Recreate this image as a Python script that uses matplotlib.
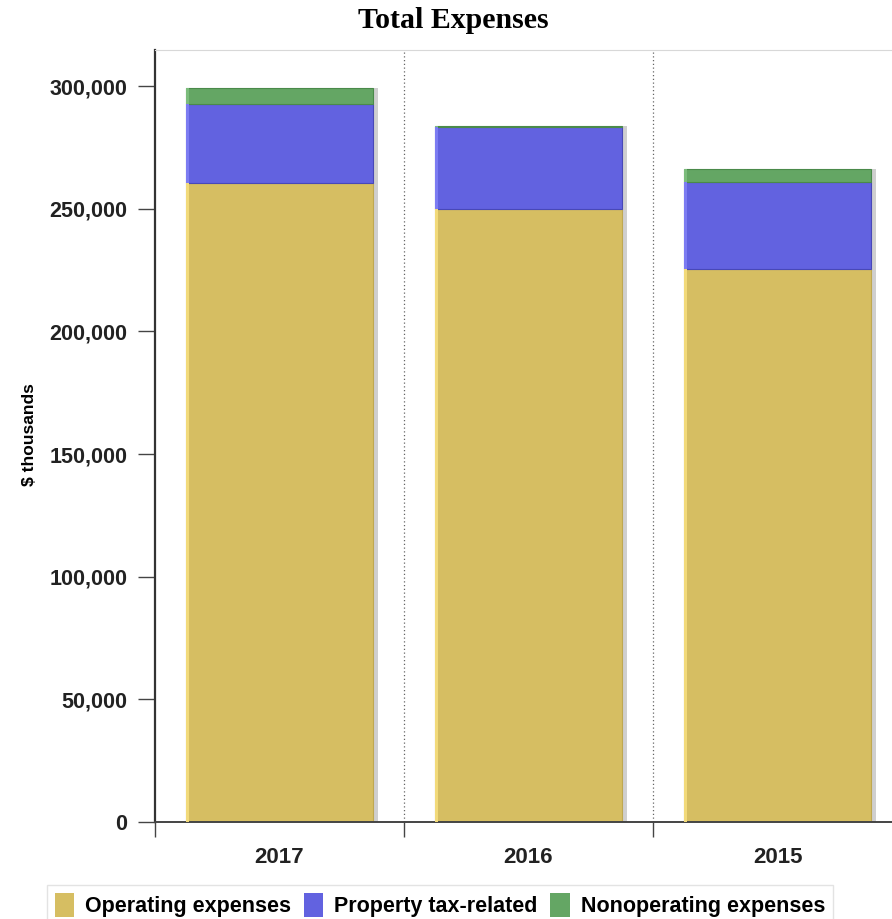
import numpy as np
import matplotlib.pyplot as plt
from matplotlib.patches import Patch

# values ($ thousands)
years = ['2017', '2016', '2015']
operating = [260500, 249900, 225400]
property_tax = [32200, 33400, 35500]
nonoperating = [6500, 400, 5300]

c_op = '#D6BE62'
c_prop = '#6262E0'
c_nonop = '#64A664'

fig = plt.figure(figsize=(8.92, 9.19), dpi=100)
ax = fig.add_axes([155/892, 1-822/919, (902-155)/892, (822-50)/919])

x = np.arange(len(years))
w = 0.755
op = np.array(operating)
pt = np.array(property_tax)
no = np.array(nonoperating)
total = op + pt + no

# drop shadow behind each bar
ax.bar(x + 0.02, total, width=w, color='#CFCFCF', zorder=1)

ax.bar(x, op, width=w, color=c_op, edgecolor='#BFA850', linewidth=0.8, zorder=2)
ax.bar(x, pt, bottom=op, width=w, color=c_prop, edgecolor='#4848B8', linewidth=0.8, zorder=2)
ax.bar(x, no, bottom=op + pt, width=w, color=c_nonop, edgecolor='#4A8A4A', linewidth=0.8, zorder=2)
# lighter left edge highlight
ax.bar(x - w/2, op, width=0.016, align='edge', color='#F2DA7A', zorder=3)
ax.bar(x - w/2, pt, bottom=op, width=0.016, align='edge', color='#7C7CF2', zorder=3)
ax.bar(x - w/2, no, bottom=op + pt, width=0.016, align='edge', color='#7CBC7C', zorder=3)

ax.set_xlim(-0.5, len(years) - 0.5)
ax.set_ylim(0, 314700)

for b in x[:-1] + 0.5:
    ax.axvline(b, color='#666666', linestyle=(0, (1, 2)), linewidth=0.9, zorder=0)

ax.set_yticks(np.arange(0, 300001, 50000))
ax.set_yticklabels([f'{v:,}' for v in range(0, 300001, 50000)],
                   fontsize=15.5, fontweight='bold', color='#222222', family='Liberation Sans')
ax.set_xticks(x)
ax.set_xticklabels(years, fontsize=16, fontweight='bold', color='#222222', family='Liberation Sans')
ax.tick_params(axis='x', length=0, pad=18)
ax.tick_params(axis='y', length=12, width=1, color='#444444', pad=8)
# category boundary ticks
ax.set_xticks(np.arange(-0.5, len(years), 1), minor=True)
ax.tick_params(axis='x', which='minor', length=11, width=1, color='#444444', direction='out')

ax.spines['left'].set_color('#333333')
ax.spines['left'].set_linewidth(1.6)
ax.spines['bottom'].set_color('#444444')
ax.spines['bottom'].set_linewidth(1.4)
ax.spines['top'].set_color('#D8D8D8')
ax.spines['right'].set_visible(False)

fig.text(30/892, 1-435/919, '$ thousands', rotation=90, ha='center', va='center',
         fontsize=12.5, fontweight='bold', family='Liberation Sans')

fig.text(453/892, 1-21/919, 'Total Expenses', ha='center', va='center',
         fontsize=21.5, fontweight='bold', family='Liberation Serif')

handles = [Patch(facecolor=c_op, edgecolor='none'),
           Patch(facecolor=c_prop, edgecolor='none'),
           Patch(facecolor=c_nonop, edgecolor='none')]
leg = fig.legend(handles, ['Operating expenses', 'Property tax-related', 'Nonoperating expenses'],
                 loc='center', bbox_to_anchor=(440/892, 1-905/919), ncol=3,
                 frameon=True, fancybox=False, edgecolor='#DDDDDD',
                 handlelength=0.9, handleheight=1.4, handletextpad=0.5, columnspacing=0.6,
                 borderpad=0.35, prop={'family': 'Liberation Sans', 'weight': 'bold', 'size': 15.5})

fig.savefig('out.png', dpi=100)
